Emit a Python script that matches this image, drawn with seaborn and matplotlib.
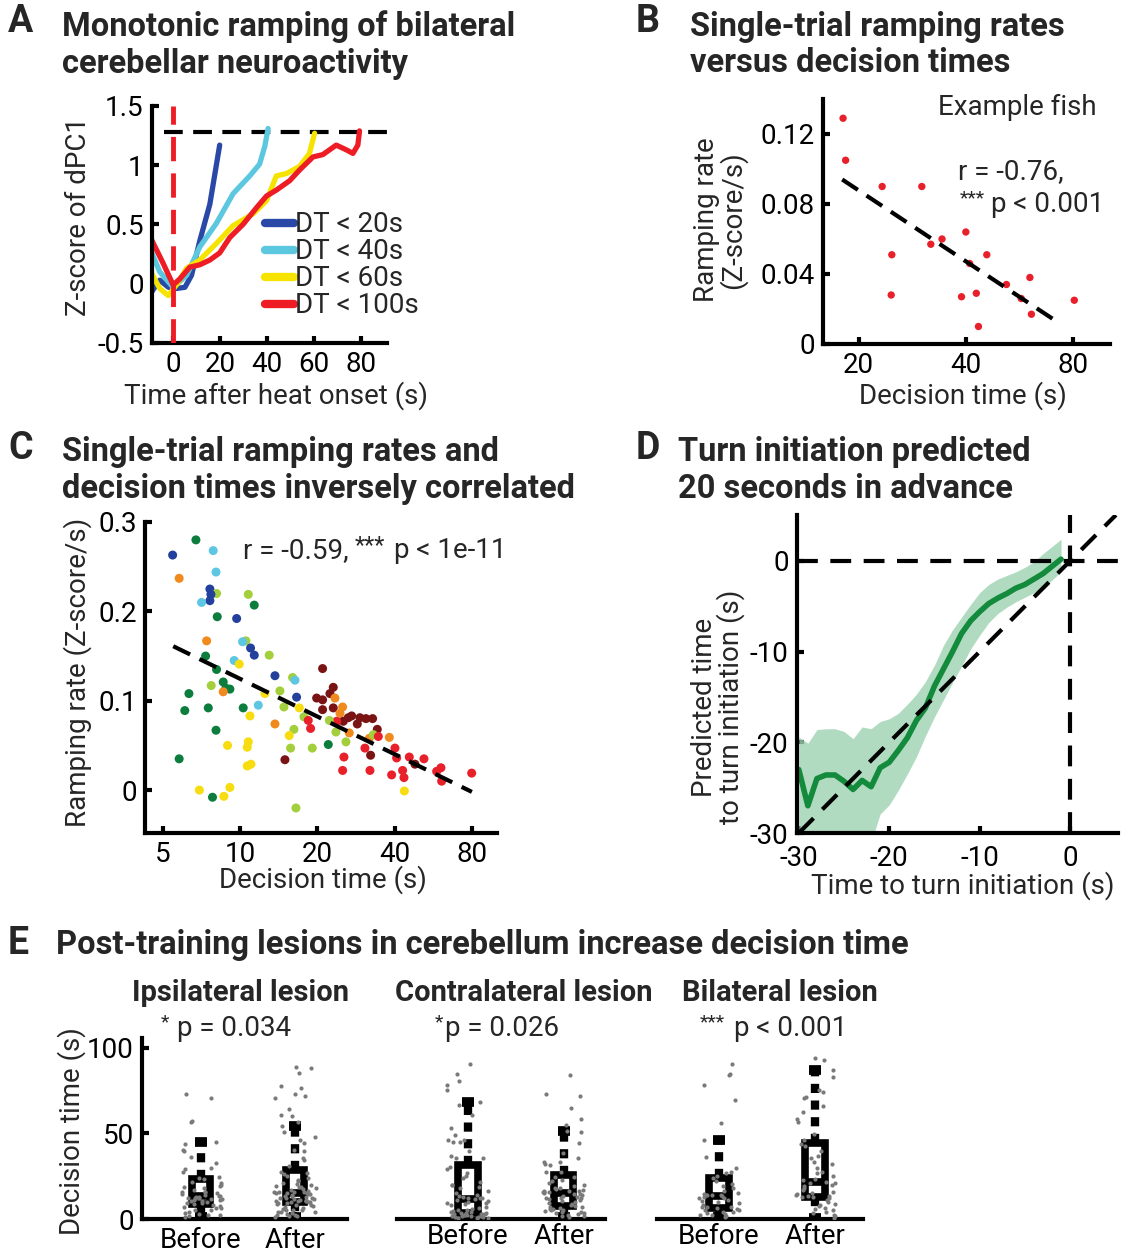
import numpy as np
import pandas as pd
import matplotlib
matplotlib.use("Agg")
import matplotlib.pyplot as plt
import seaborn as sns
from matplotlib.ticker import NullLocator

W, H = 1131, 1260

# ---------------- A: dPC1 trajectories ----------------
a_blue_t = [-9.2, -5.7, -2.0, 1.4, 5.0, 7.8, 11.3, 15.6, 19.8]
a_blue_z = [-0.07, 0.03, -0.03, -0.04, -0.03, 0.07, 0.36, 0.67, 1.17]
a_cyan_t = [-9.9, -5.7, 0.0, 5.7, 11.3, 18.4, 25.5, 32.6, 36.8, 39.0, 40.4]
a_cyan_z = [0.30, 0.10, -0.03, 0.07, 0.31, 0.51, 0.76, 0.91, 1.01, 1.16, 1.31]
a_yellow_t = [-9.2, -5.7, -2.1, 1.4, 5.7, 11.3, 18.4, 25.5, 34.0, 39.7, 43.9, 48.2,
              53.8, 58.0, 60.2]
a_yellow_z = [0.09, -0.04, -0.10, -0.01, 0.13, 0.20, 0.34, 0.49, 0.59, 0.70, 0.91, 0.93,
              0.99, 1.10, 1.27]
a_red_t = [-9.9, -4.2, 0.0, 2.8, 7.1, 11.3, 15.6, 19.8, 24.1, 29.7, 35.4, 39.7, 43.9,
           49.6, 53.8, 59.5, 63.7, 69.4, 73.7, 76.5, 78.6, 79.3]
a_red_z = [0.40, 0.17, -0.01, 0.04, 0.14, 0.16, 0.20, 0.26, 0.39, 0.50, 0.64, 0.74, 0.79,
           0.87, 0.96, 1.07, 1.09, 1.17, 1.13, 1.10, 1.17, 1.29]
a_labels = ["DT < 20s", "DT < 40s", "DT < 60s", "DT < 100s"]
a_colors = ["#2a48a6", "#5cc8e0", "#f6e400", "#ee1c24"]
a_threshold = 1.28

# ---------------- B: example fish ----------------
b_dt = [18.1, 18.4, 23.3, 24.8, 24.7, 30.1, 31.9, 34.3, 38.9, 40.0, 41.0, 42.8, 43.4,
        45.8, 52.0, 57.2, 60.5, 61.1, 80.6]
b_rate = [0.129, 0.105, 0.090, 0.051, 0.028, 0.090, 0.057, 0.060, 0.027, 0.064, 0.046,
          0.029, 0.010, 0.051, 0.034, 0.026, 0.038, 0.017, 0.025]
b_fit_dt = [18.0, 73.0]
b_fit_rate = [0.094, 0.012]

# ---------------- C: all fish ----------------
c_dt = [5.47, 6.74, 7.87, 5.80, 8.07, 7.64, 8.11, 7.71, 7.64, 7.09, 10.78, 11.37, 8.16,
        9.71, 7.42, 10.55, 10.24, 11.0, 11.37, 13.0, 7.35, 9.50, 9.94, 8.11, 13.69, 16.03,
        16.38, 6.33, 7.73, 8.61, 8.82, 9.14, 8.61, 12.51, 14.31, 16.62, 6.10, 7.53, 10.30,
        11.79, 14.84, 17.03, 17.75, 10.94, 13.69, 8.07, 16.23, 15.56, 8.95, 10.78, 10.68,
        15.75, 19.13, 5.80, 10.68, 11.04, 14.97, 6.95, 7.82, 8.66, 9.14, 16.52, 18.45,
        18.84, 19.89,
        20.98, 23.09, 22.41, 20.98, 23.44, 23.09, 25.11, 20.98, 24.52, 27.22, 26.41, 25.26,
        29.32, 30.95, 32.85, 28.64, 34.26, 23.80, 22.28, 23.65, 26.65, 31.89, 33.06, 34.58,
        25.87, 22.08, 30.67, 38.16, 40.14, 40.75, 45.65, 48.03, 52.06, 32.27, 25.41, 25.11,
        32.08, 38.96, 42.99, 43.52, 58.33, 60.63, 61.0, 79.84, 43.66]
c_rate = [0.263, 0.280, 0.268, 0.237, 0.244, 0.225, 0.220, 0.219, 0.212, 0.210, 0.219,
          0.207, 0.194, 0.192, 0.167, 0.167, 0.166, 0.159, 0.151, 0.151, 0.150, 0.145,
          0.141, 0.135, 0.128, 0.126, 0.123, 0.108, 0.117, 0.121, 0.114, 0.113, 0.110,
          0.108, 0.111, 0.104, 0.089, 0.092, 0.092, 0.095, 0.093, 0.092, 0.082, 0.083,
          0.074, 0.067, 0.068, 0.061, 0.050, 0.054, 0.048, 0.047, 0.047, 0.035, 0.027,
          0.029, 0.034, 0.000, -0.008, -0.007, 0.003, -0.020, 0.078, 0.069, 0.103,
          0.136, 0.115, 0.108, 0.101, 0.103, 0.092, 0.093, 0.090, 0.086, 0.083, 0.081,
          0.077, 0.081, 0.080, 0.080, 0.074, 0.068, 0.077, 0.078, 0.065, 0.064, 0.058,
          0.062, 0.060, 0.054, 0.051, 0.047, 0.059, 0.047, 0.036, 0.037, 0.029, 0.035,
          0.039, 0.037, 0.022, 0.022, 0.017, 0.022, 0.014, 0.021, 0.025, 0.010, 0.019,
          -0.001]
c_fish = ["db", "dg", "cy", "or", "cy", "db", "yg", "db", "db", "cy", "yg", "dg", "dg",
          "db", "or", "yg", "cy", "db", "db", "yg", "dg", "cy", "ye", "dg", "db", "yg",
          "cy", "dg", "yg", "dg", "dg", "dg", "or", "ye", "yg", "db", "dg", "dg", "dg",
          "cy", "yg", "ye", "yg", "ye", "or", "dg", "yg", "ye", "ye", "ye", "ye", "yg",
          "yg", "dg", "ye", "ye", "dr", "ye", "dg", "ye", "ye", "yg", "re", "re", "dr",
          "dr", "dr", "dr", "dr", "or", "dr", "or", "dr", "or", "dr", "dr", "dr", "dr",
          "dr", "dr", "dr", "dr", "re", "yg", "yg", "or", "or", "yg", "re", "yg", "dg",
          "re", "or", "re", "re", "re", "dr", "re", "dr", "re", "re", "re", "re", "re",
          "re", "re", "re", "re", "re", "ye"]
c_fit_dt = [5.5, 80.0]
c_fit_rate = [0.161, -0.002]
fish_colors = {"db": "#23409c", "cy": "#5dc6e2", "dg": "#0c7d3c", "yg": "#a4cf3c",
               "ye": "#f7dc10", "or": "#f08a1e", "re": "#e8202a", "dr": "#7a1414"}

# ---------------- D: decoder prediction ----------------
d_time = list(range(-30, 0))
d_mean = [-23.0, -27.0, -24.0, -23.6, -23.6, -24.3, -25.2, -24.2, -24.9, -22.8, -22.2,
          -20.9, -19.5, -17.6, -16.2, -13.8, -11.9, -10.0, -8.0, -6.6, -5.6, -4.7, -4.1,
          -3.6, -3.0, -2.6, -2.0, -1.4, -0.6, 0.2]
d_upper = [-19.4, -20.1, -18.6, -18.5, -18.5, -18.8, -19.6, -18.3, -18.5, -17.7, -17.4,
           -16.8, -15.8, -14.7, -13.3, -11.5, -9.3, -7.6, -6.2, -4.8, -3.5, -2.6, -2.0,
           -1.6, -1.2, -0.7, -0.1, 0.8, 1.6, 2.4]
d_lower = [-33.0, -34.0, -33.0, -32.0, -31.5, -32.0, -33.0, -32.0, -31.0, -27.9, -26.9,
           -25.3, -23.5, -21.6, -19.3, -17.2, -15.3, -13.4, -11.6, -9.7, -8.2, -6.8, -5.8,
           -5.1, -4.5, -4.0, -3.5, -3.0, -2.1, -1.2]

# ---------------- E: lesion decision times ----------------
ipsi_before = [73.0, 70.9, 57.4, 56.9, 45.0, 43.6, 40.4, 39.8, 36.4, 32.6, 29.7, 29.3,
               27.7, 24.8, 23.8, 23.4, 21.8, 20.9, 20.0, 19.0, 18.4, 17.9, 17.0, 16.0,
               16.0, 15.5, 15.0, 14.5, 14.0, 13.5, 13.2, 12.9, 12.6, 12.5, 12.2, 12.0,
               11.8, 11.5, 11.1, 11.0, 10.6, 10.3, 10.0, 9.5, 9.2, 8.5, 8.2, 7.8, 7.2,
               6.5, 6.2, 5.3, 5.0, 4.3, 3.3, 3.0, 2.3, 2.3, 1.5, 1.0]
ipsi_after = [89.0, 88.1, 85.2, 77.7, 76.4, 73.0, 72.0, 70.9, 64.0, 61.0, 60.3, 56.9,
              54.3, 50.6, 47.6, 46.2, 44.2, 40.4, 39.8, 35.8, 34.5, 30.7, 27.7, 26.7,
              26.0, 25.0, 24.0, 23.0, 22.0, 21.0, 20.5, 19.9, 19.5, 18.9, 18.9, 18.0,
              17.5, 17.0, 16.5, 16.0, 16.0, 15.8, 15.6, 15.4, 15.2, 15.0, 14.7, 14.4,
              14.0, 13.6, 13.2, 12.8, 12.4, 12.0, 12.0, 11.7, 11.4, 11.1, 10.9, 10.7,
              10.5, 10.4, 10.3, 10.2, 10.1, 10.0, 9.6, 9.2, 8.8, 8.2, 8.2, 7.5, 7.0, 6.5,
              6.0, 5.5, 5.3, 5.0, 4.3, 4.3, 4.0, 3.3, 3.0, 2.5, 2.3, 2.0, 1.5, 1.0]
contra_before = [90.4, 84.7, 80.3, 78.0, 75.4, 68.5, 66.6, 60.8, 52.9, 49.0, 46.1, 45.2,
                 45.2, 46.1, 40.0, 35.4, 36.8, 35.4, 30.5, 29.0, 27.0, 25.0, 23.8, 21.8,
                 20.0, 19.9, 18.5, 17.9, 16.5, 15.0, 14.0, 13.5, 13.0, 12.5, 12.2, 12.0,
                 11.8, 11.1, 10.5, 10.0, 9.5, 9.1, 8.5, 8.0, 7.2, 6.6, 6.0, 5.5, 5.0, 4.6,
                 4.2, 3.9, 3.7, 3.6, 3.3, 3.2, 3.0, 2.8, 2.7, 2.5, 2.3, 2.2, 2.0, 1.8, 1.7,
                 1.5, 1.3, 1.2, 1.0, 0.8, 0.6, 0.5]
contra_after = [84.1, 73.0, 72.0, 64.7, 58.3, 54.9, 51.5, 51.0, 44.2, 38.4, 35.8, 33.5,
                33.1, 31.6, 32.3, 27.7, 27.7, 24.8, 24.8, 22.9, 22.0, 21.0, 20.0, 19.0,
                18.0, 18.0, 17.5, 17.0, 16.6, 16.3, 16.1, 16.0, 15.8, 15.5, 15.2, 14.8,
                14.4, 14.0, 13.5, 13.0, 12.5, 12.0, 12.0, 11.5, 11.1, 10.5, 10.0, 9.3,
                8.6, 8.2, 7.8, 7.2, 6.8, 6.2, 6.0, 5.6, 5.3, 5.0, 4.7, 4.3, 4.0, 3.6, 3.3,
                3.0, 2.5, 2.0, 1.5, 1.0]
bilat_before = [90.5, 84.7, 84.1, 78.1, 69.3, 56.3, 46.1, 36.4, 30.0, 27.7, 26.7, 25.0,
                23.8, 22.0, 20.5, 19.0, 18.0, 16.4, 15.1, 14.5, 14.2, 14.0, 14.0, 13.8,
                13.5, 13.0, 12.5, 12.0, 11.0, 10.5, 10.0, 9.1, 8.2, 7.2, 7.0, 6.8, 6.2,
                6.0, 5.5, 5.0, 4.3, 4.0, 3.5, 3.0, 2.6, 2.3, 1.5, 1.0]
bilat_after = [93.9, 93.0, 87.1, 83.2, 75.4, 74.4, 70.5, 71.5, 65.7, 62.5, 58.3, 56.4,
               49.6, 46.1, 44.0, 42.8, 40.0, 37.0, 35.4, 33.0, 32.4, 29.7, 27.7, 26.7,
               25.0, 23.4, 22.5, 21.8, 21.0, 20.9, 20.0, 19.0, 18.0, 17.0, 16.0, 15.1,
               14.5, 14.0, 13.6, 13.3, 13.1, 13.0, 12.0, 11.0, 10.1, 9.0, 8.2, 7.5, 6.6,
               5.8, 5.3, 4.3, 3.5, 2.5, 1.5, 0.8]
phases = ["Before", "After"]

# ---------------- figure ----------------
sns.set_style("ticks")
plt.rcParams.update({
    "font.family": ["Roboto", "DejaVu Sans"],
    "font.size": 20,
    "axes.labelsize": 20,
    "xtick.labelsize": 20,
    "ytick.labelsize": 20,
    "axes.linewidth": 3,
    "axes.edgecolor": "black",
    "xtick.color": "black",
    "ytick.color": "black",
    "axes.unicode_minus": False,
})

fig = plt.figure(figsize=(W / 100, H / 100), dpi=100)
DASH = (0, (4.5, 2.5))
TITLE = dict(fontsize=23.5, fontweight="bold")


def px_axes(left, top, right, bottom):
    return fig.add_axes([left / W, 1 - bottom / H, (right - left) / W, (bottom - top) / H])


def ftext(x, y, s, **kw):
    kw.setdefault("va", "center")
    return fig.text(x / W, 1 - y / H, s, **kw)


def style_axes(ax, rect, xlabel=None, xpos=None, ylabel=None, ypos=None):
    left, top, right, bottom = rect
    sns.despine(ax=ax)
    ax.tick_params(direction="in", length=5, width=3, pad=6)
    if xlabel:
        ax.set_xlabel(xlabel)
        ax.xaxis.set_label_coords((xpos[0] - left) / (right - left),
                                  (bottom - xpos[1]) / (bottom - top))
        ax.xaxis.label.set_va("center")
    if ylabel:
        ax.set_ylabel(ylabel, linespacing=0.95)
        ax.yaxis.set_label_coords((ypos[0] - left) / (right - left),
                                  (bottom - ypos[1]) / (bottom - top))
        ax.yaxis.label.set_va("center")


# panel letters and titles
for letter, x, y in [("A", 8, 22), ("B", 636, 22), ("C", 8, 448), ("D", 636, 448),
                     ("E", 8, 943)]:
    ftext(x, y, letter, fontsize=27, fontweight="bold")
ftext(62, 27, "Monotonic ramping of bilateral", **TITLE)
ftext(62, 64, "cerebellar neuroactivity", **TITLE)
ftext(690, 27, "Single-trial ramping rates", **TITLE)
ftext(690, 63, "versus decision times", **TITLE)
ftext(62, 452, "Single-trial ramping rates and", **TITLE)
ftext(62, 489, "decision times inversely correlated", **TITLE)
ftext(678, 452, "Turn initiation predicted", **TITLE)
ftext(678, 489, "20 seconds in advance", **TITLE)
ftext(56, 945, "Post-training lesions in cerebellum increase decision time", **TITLE)

# ---- A ----
rectA = (152, 106, 387, 343)
axA = px_axes(*rectA)
for t, z, col, lab in zip([a_blue_t, a_cyan_t, a_yellow_t, a_red_t],
                          [a_blue_z, a_cyan_z, a_yellow_z, a_red_z], a_colors, a_labels):
    sns.lineplot(x=t, y=z, color=col, lw=3.8, sort=False, estimator=None, ax=axA,
                 label=lab)
axA.axhline(a_threshold, xmin=0.05, color="black", lw=3, ls=DASH, zorder=1)
axA.axvline(0, color="#ee1c24", lw=3.5, ls=(0, (5, 2.5)), zorder=5)
axA.set_xlim(-9, 91)
axA.set_ylim(-0.5, 1.5)
axA.set_xticks([0, 20, 40, 60, 80])
axA.set_yticks([-0.5, 0, 0.5, 1, 1.5])
axA.set_yticklabels(["-0.5", "0", "0.5", "1", "1.5"])
style_axes(axA, rectA, "Time after heat onset (s)", (276, 396), "Z-score of dPC1", (78, 216))
leg = axA.legend(loc="upper left", bbox_to_anchor=(0.48, 0.555), frameon=False,
                 fontsize=20, handlelength=1.05, handletextpad=0.05, labelspacing=0.0,
                 borderpad=0, borderaxespad=0)
for h in leg.legend_handles:
    h.set_linewidth(6)

# ---- B ----
rectB = (823, 99, 1110, 344)
axB = px_axes(*rectB)
sns.scatterplot(x=b_dt, y=b_rate, color="#e8202a", s=28, edgecolor="none", ax=axB)
sns.lineplot(x=b_fit_dt, y=b_fit_rate, color="black", lw=3, linestyle=DASH, ax=axB)
axB.set_xscale("log")
axB.xaxis.set_minor_locator(NullLocator())
axB.set_xlim(15.9, 101.5)
axB.set_ylim(0, 0.14)
axB.set_xticks([20, 40, 80])
axB.set_xticklabels(["20", "40", "80"])
axB.set_yticks([0, 0.04, 0.08, 0.12])
axB.set_yticklabels(["0", "0.04", "0.08", "0.12"])
style_axes(axB, rectB, "Decision time (s)", (963, 396), "Ramping rate\n(Z-score/s)", (720, 220))
ftext(938, 107, "Example fish", fontsize=20)
ftext(958, 172, "r = -0.76,", fontsize=20)
ftext(960, 198, "***", fontsize=14)
ftext(991, 204, "p < 0.001", fontsize=20)

# ---- C ----
rectC = (145, 522, 497, 833)
axC = px_axes(*rectC)
dfC = pd.DataFrame({"dt": c_dt, "rate": c_rate, "fish": c_fish})
sns.scatterplot(data=dfC, x="dt", y="rate", hue="fish", palette=fish_colors, s=42,
                edgecolor="none", legend=False, ax=axC, zorder=3)
sns.lineplot(x=c_fit_dt, y=c_fit_rate, color="black", lw=3, linestyle=DASH, ax=axC,
             zorder=4)
axC.set_xscale("log")
axC.xaxis.set_minor_locator(NullLocator())
axC.set_xlim(4.27, 100.2)
axC.set_ylim(-0.048, 0.300)
axC.set_xticks([5, 10, 20, 40, 80])
axC.set_xticklabels(["5", "10", "20", "40", "80"])
axC.set_yticks([0, 0.1, 0.2, 0.3])
axC.set_yticklabels(["0", "0.1", "0.2", "0.3"])
style_axes(axC, rectC, "Decision time (s)", (323, 880), "Ramping rate (Z-score/s)", (78, 672))
ftext(243, 551, "r = -0.59,", fontsize=20)
ftext(355, 546, "***", fontsize=17)
ftext(394, 551, "p < 1e-11", fontsize=20)

# ---- D ----
rectD = (797, 515, 1118, 833)
axD = px_axes(*rectD)
axD.fill_between(d_time, d_lower, d_upper, color="#9ed3b2", alpha=0.8, lw=0)
sns.lineplot(x=d_time, y=d_mean, color="#138a3c", lw=4, ax=axD)
axD.axhline(0, color="black", lw=3, ls=(0, (5, 3)))
axD.axvline(0, color="black", lw=3, ls=(0, (5, 3)))
axD.axline((0, 0), slope=1, color="black", lw=3, ls=(0, (5, 3)))
axD.set_xlim(-30.2, 5.3)
axD.set_ylim(-30, 5.07)
axD.set_xticks([-30, -20, -10, 0])
axD.set_yticks([-30, -20, -10, 0])
style_axes(axD, rectD, "Time to turn initiation (s)", (963, 886),
           "Predicted time\nto turn initiation (s)", (718, 707))
axD.tick_params(axis="x", pad=9)

# ---- E ----
e_groups = [
    ("Ipsilateral lesion", ipsi_before, ipsi_after, (142, 1038, 347, 1219), (-0.628, 1.553)),
    ("Contralateral lesion", contra_before, contra_after, (397, 1038, 605, 1219), (-0.74, 1.43)),
    ("Bilateral lesion", bilat_before, bilat_after, (657, 1038, 863, 1219), (-0.646, 1.5)),
]
for i, (name, before, after, rect, xl) in enumerate(e_groups):
    ax = px_axes(*rect)
    dfE = pd.DataFrame({"phase": ["Before"] * len(before) + ["After"] * len(after),
                        "time": before + after})
    sns.boxplot(data=dfE, x="phase", y="time", order=phases, width=0.2, color="white",
                linecolor="black", linewidth=5.5, showfliers=False, ax=ax,
                whiskerprops=dict(linestyle=(0, (1.1, 0.9)), linewidth=6),
                capprops=dict(linewidth=7, solid_capstyle="butt"), capwidths=0.12)
    sns.stripplot(data=dfE, x="phase", y="time", order=phases, color="#7a7a7a", size=3,
                  jitter=0.22, ax=ax, zorder=4)
    ax.set_xlim(*xl)
    ax.set_ylim(0, 105.7)
    style_axes(ax, rect)
    ax.set_xlabel("")
    ax.set_ylabel("")
    ax.tick_params(axis="x", length=0, pad=3)
    if i == 0:
        ax.set_yticks([0, 50, 100])
        ax.tick_params(axis="y", pad=3)
        style_axes(ax, rect, ylabel="Decision time (s)", ypos=(72, 1131))
    else:
        ax.spines["left"].set_visible(False)
        ax.set_yticks([])

SUB = dict(fontsize=21, fontweight="bold", ha="center")
ftext(241, 993, "Ipsilateral lesion", **SUB)
ftext(524, 993, "Contralateral lesion", **SUB)
ftext(780, 993, "Bilateral lesion", **SUB)
ftext(165, 1022, "*", fontsize=14, ha="center")
ftext(177, 1028, "p = 0.034", fontsize=20)
ftext(439, 1022, "*", fontsize=14, ha="center")
ftext(445, 1028, "p = 0.026", fontsize=20)
ftext(712, 1022, "***", fontsize=14, ha="center")
ftext(734, 1028, "p < 0.001", fontsize=20)

fig.savefig("out.png", dpi=100)
